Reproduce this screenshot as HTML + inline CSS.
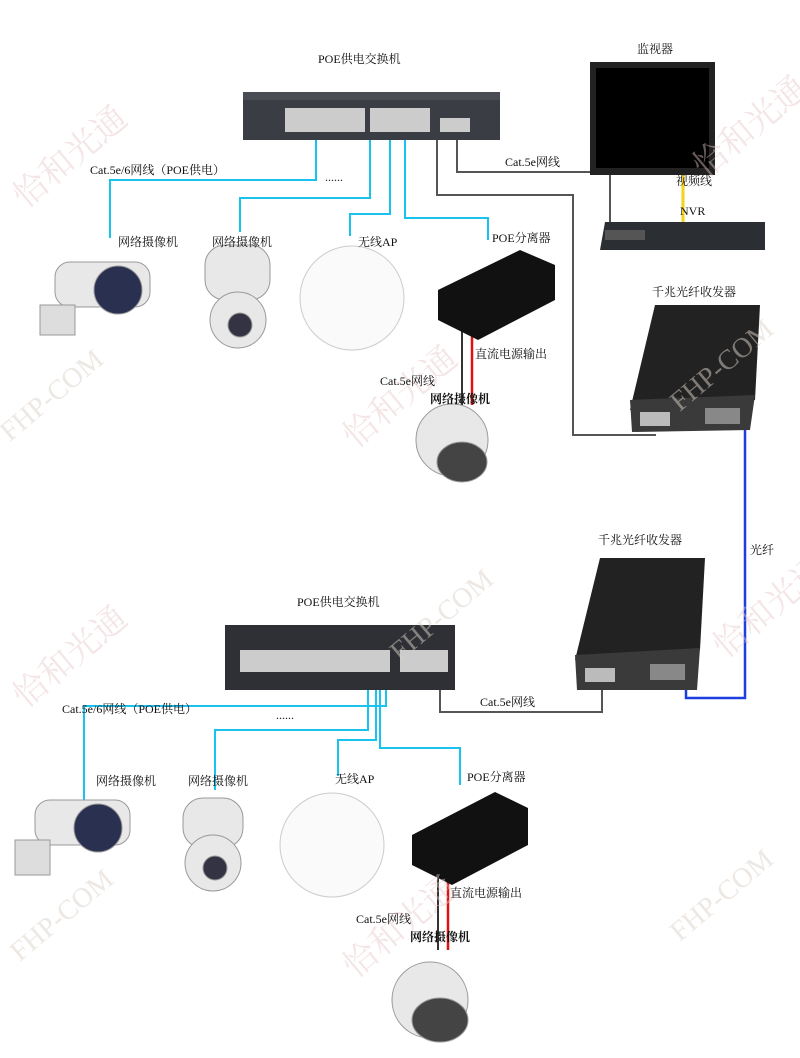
<!DOCTYPE html>
<html><head><meta charset="utf-8">
<style>
body{margin:0;background:#fff;}
#c{position:relative;width:800px;height:1058px;overflow:hidden;background:#fff;font-family:"Liberation Serif","Noto Serif CJK SC",serif;}
.t{position:absolute;font-size:12px;color:#111;white-space:nowrap;}
.wm{position:absolute;font-size:34px;color:rgba(230,200,200,0.45);font-family:"Liberation Serif","Noto Serif CJK SC",serif;transform:rotate(-40deg);white-space:nowrap;}
.wm2{position:absolute;font-size:28px;color:rgba(220,210,200,0.5);transform:rotate(-40deg);white-space:nowrap;font-family:"Liberation Serif",serif;}
</style></head><body><div id="c">
<svg width="800" height="1058" style="position:absolute;left:0;top:0">
<!-- top cyan lines -->
<g stroke="#19c3ef" stroke-width="2" fill="none">
<polyline points="316,140 316,180 110,180 110,238"/>
<polyline points="370,140 370,198 240,198 240,232"/>
<polyline points="390,140 390,214 350,214 350,236"/>
<polyline points="405,140 405,218 488,218 488,240"/>
<polyline points="386,660 386,706 84,706 84,800"/>
<polyline points="368,660 368,730 215,730 215,790"/>
<polyline points="376,660 376,740 338,740 338,776"/>
<polyline points="380,660 380,748 460,748 460,785"/>
</g>
<g stroke="#555" stroke-width="2" fill="none">
<polyline points="437,140 437,195 573,195 573,435 656,435"/>
<polyline points="457,140 457,172 610,172 610,222"/>
<polyline points="602,688 602,712 440,712 440,665"/>
</g>
<polyline points="745,430 745,698 686,698 686,680" stroke="#1d3fe0" stroke-width="2.5" fill="none"/>
<line x1="683" y1="175" x2="683" y2="222" stroke="#f2d21a" stroke-width="3"/>
<line x1="472" y1="305" x2="472" y2="405" stroke="#e01010" stroke-width="2.5"/>
<line x1="462" y1="305" x2="462" y2="405" stroke="#333" stroke-width="2"/>
<line x1="448" y1="850" x2="448" y2="950" stroke="#e01010" stroke-width="2.5"/>
<line x1="438" y1="850" x2="438" y2="950" stroke="#333" stroke-width="2"/>
<!-- top switch -->
<rect x="243" y="92" width="257" height="48" fill="#3a3d44"/>
<rect x="243" y="92" width="257" height="8" fill="#4a4d55"/>
<g fill="#ccc"><rect x="285" y="108" width="80" height="24"/><rect x="370" y="108" width="60" height="24"/><rect x="440" y="118" width="30" height="14"/></g>
<!-- monitor -->
<rect x="590" y="62" width="125" height="113" fill="#222"/>
<rect x="596" y="68" width="113" height="100" fill="#000"/>
<!-- NVR -->
<polygon points="605,222 765,222 765,250 600,250" fill="#2b2e33"/>
<rect x="605" y="230" width="40" height="10" fill="#555"/>
<!-- transceiver 1 -->
<polygon points="655,305 760,305 755,400 630,410" fill="#222"/>
<polygon points="630,400 755,395 750,430 632,432" fill="#3a3a3a"/>
<rect x="640" y="412" width="30" height="14" fill="#bbb"/><rect x="705" y="408" width="35" height="16" fill="#888"/>
<!-- transceiver 2 -->
<polygon points="600,558 705,558 700,650 575,660" fill="#222"/>
<polygon points="575,655 700,648 697,690 577,690" fill="#3a3a3a"/>
<rect x="585" y="668" width="30" height="14" fill="#bbb"/><rect x="650" y="664" width="35" height="16" fill="#888"/>
<!-- bottom switch -->
<rect x="225" y="625" width="230" height="65" fill="#2e3035"/>
<rect x="240" y="650" width="150" height="22" fill="#ccc"/>
<rect x="400" y="650" width="48" height="22" fill="#ccc"/>
<!-- top devices -->
<g fill="#e8e8e8" stroke="#999">
<rect x="55" y="262" width="95" height="45" rx="15"/>
<circle cx="118" cy="290" r="24" fill="#2a3050"/>
<rect x="40" y="305" width="35" height="30" fill="#ddd"/>
<rect x="205" y="245" width="65" height="55" rx="20"/>
<circle cx="238" cy="320" r="28"/>
<circle cx="240" cy="325" r="12" fill="#334"/>
<circle cx="352" cy="298" r="52" fill="#fafafa" stroke="#ccc"/>
<circle cx="452" cy="440" r="36"/>
<ellipse cx="462" cy="462" rx="25" ry="20" fill="#444"/>
<rect x="35" y="800" width="95" height="45" rx="15"/>
<circle cx="98" cy="828" r="24" fill="#2a3050"/>
<rect x="15" y="840" width="35" height="35" fill="#ddd"/>
<rect x="183" y="798" width="60" height="50" rx="20"/>
<circle cx="213" cy="863" r="28"/>
<circle cx="215" cy="868" r="12" fill="#334"/>
<circle cx="332" cy="845" r="52" fill="#fafafa" stroke="#ccc"/>
<circle cx="430" cy="1000" r="38"/>
<ellipse cx="440" cy="1020" rx="28" ry="22" fill="#444"/>
</g>
<polygon points="438,290 520,250 555,265 555,300 478,340 438,320" fill="#111"/>
<polygon points="412,835 495,792 528,808 528,845 452,885 412,865" fill="#111"/>
</svg>
<div class="wm" style="left:0;top:130px">恰和光通</div>
<div class="wm" style="left:330px;top:370px">恰和光通</div>
<div class="wm" style="left:680px;top:100px">恰和光通</div>
<div class="wm" style="left:700px;top:580px">恰和光通</div>
<div class="wm" style="left:0;top:630px">恰和光通</div>
<div class="wm" style="left:330px;top:900px">恰和光通</div>
<div class="wm2" style="left:-10px;top:380px">FHP-COM</div>
<div class="wm2" style="left:660px;top:350px">FHP-COM</div>
<div class="wm2" style="left:380px;top:600px">FHP-COM</div>
<div class="wm2" style="left:660px;top:880px">FHP-COM</div>
<div class="wm2" style="left:0;top:900px">FHP-COM</div>
<div class="t" style="left:318px;top:50px">POE供电交换机</div>
<div class="t" style="left:637px;top:40px">监视器</div>
<div class="t" style="left:676px;top:172px">视频线</div>
<div class="t" style="left:680px;top:204px">NVR</div>
<div class="t" style="left:90px;top:161px">Cat.5e/6网线（POE供电）</div>
<div class="t" style="left:505px;top:153px">Cat.5e网线</div>
<div class="t" style="left:118px;top:233px">网络摄像机</div>
<div class="t" style="left:212px;top:233px">网络摄像机</div>
<div class="t" style="left:358px;top:233px">无线AP</div>
<div class="t" style="left:492px;top:229px">POE分离器</div>
<div class="t" style="left:652px;top:283px">千兆光纤收发器</div>
<div class="t" style="left:475px;top:345px">直流电源输出</div>
<div class="t" style="left:380px;top:372px">Cat.5e网线</div>
<div class="t" style="left:430px;top:390px;font-weight:bold">网络摄像机</div>
<div class="t" style="left:598px;top:531px">千兆光纤收发器</div>
<div class="t" style="left:750px;top:541px">光纤</div>
<div class="t" style="left:297px;top:593px">POE供电交换机</div>
<div class="t" style="left:480px;top:693px">Cat.5e网线</div>
<div class="t" style="left:62px;top:700px">Cat.5e/6网线（POE供电）</div>
<div class="t" style="left:96px;top:772px">网络摄像机</div>
<div class="t" style="left:188px;top:772px">网络摄像机</div>
<div class="t" style="left:335px;top:770px">无线AP</div>
<div class="t" style="left:467px;top:768px">POE分离器</div>
<div class="t" style="left:450px;top:884px">直流电源输出</div>
<div class="t" style="left:356px;top:910px">Cat.5e网线</div>
<div class="t" style="left:410px;top:928px;font-weight:bold">网络摄像机</div>
<div class="t" style="left:325px;top:170px">......</div>
<div class="t" style="left:276px;top:708px">......</div>
</div></body></html>
